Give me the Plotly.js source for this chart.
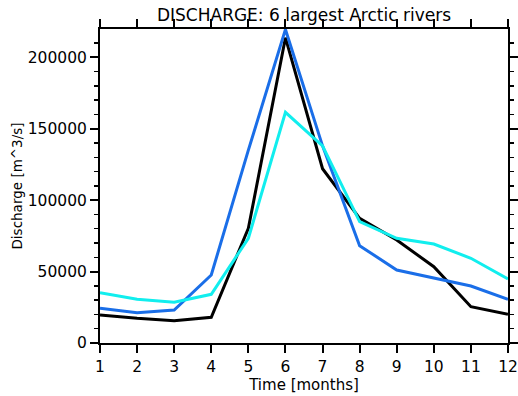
<!DOCTYPE html>
<html><head><meta charset="utf-8">
<script src="https://cdn.plot.ly/plotly-3.0.1.min.js"></script>
<style>html,body{margin:0;padding:0;background:#fff}#chart{width:518px;height:396px}</style>
</head><body><div id="chart"></div>
<script>
const months = [1,2,3,4,5,6,7,8,9,10,11,12];
const seriesBlack = [19600,17300,15600,18000,80300,213700,122000,87300,72100,53400,25400,20100];
const seriesBlue  = [24300,21200,23100,47600,135000,219500,138000,68100,51100,45300,39900,30600];
const seriesCyan  = [35200,30600,28500,34100,73300,161500,138000,84900,73300,69300,59300,44800];
const xTicks = [1,2,3,4,5,6,7,8,9,10,11,12];
const yTicks = [0,50000,100000,150000,200000];

const font = {family: 'DejaVu Sans, sans-serif', color: '#000'};
const traces = [
  {x: months, y: seriesBlack, mode: 'lines', line: {color: '#000000', width: 3}},
  {x: months, y: seriesBlue, mode: 'lines', line: {color: '#1a6ee8', width: 3}},
  {x: months, y: seriesCyan, mode: 'lines', line: {color: '#11eeee', width: 3}}
];
const layout = {
  width: 518, height: 396,
  margin: {l: 100, r: 10, t: 29, b: 53},
  showlegend: false,
  paper_bgcolor: '#fff', plot_bgcolor: '#fff',
  font: Object.assign({size: 14}, font),
  title: {text: 'DISCHARGE: 6 largest Arctic rivers', font: Object.assign({size: 17}, font),
          xref: 'paper', x: 0.5, xanchor: 'center', yref: 'container', y: 0.962, yanchor: 'middle'},
  xaxis: {
    range: [1, 12], tickvals: xTicks, ticktext: xTicks.map(String),
    showgrid: false, zeroline: false, showline: true, linecolor: '#000', linewidth: 2,
    mirror: 'ticks', ticks: 'outside', ticklen: 8, tickwidth: 2, tickcolor: '#000',
    tickfont: Object.assign({size: 15.5}, font),
    title: {text: 'Time [months]', font: Object.assign({size: 15}, font), standoff: 3}
  },
  yaxis: {
    range: [0, 219800], tickvals: yTicks, ticktext: yTicks.map(String),
    showgrid: false, zeroline: false, showline: true, linecolor: '#000', linewidth: 2,
    mirror: 'ticks', ticks: 'outside', ticklen: 8, tickwidth: 2, tickcolor: '#000',
    minor: {dtick: 10000, ticks: 'outside', ticklen: 4, tickwidth: 1.5, tickcolor: '#000', showgrid: false},
    tickfont: Object.assign({size: 15.5}, font),
    title: {text: 'Discharge [m^3/s]', font: Object.assign({size: 13.5}, font), standoff: 2}
  }
};
Plotly.newPlot('chart', traces, layout, {displayModeBar: false, staticPlot: true});
</script></body></html>
